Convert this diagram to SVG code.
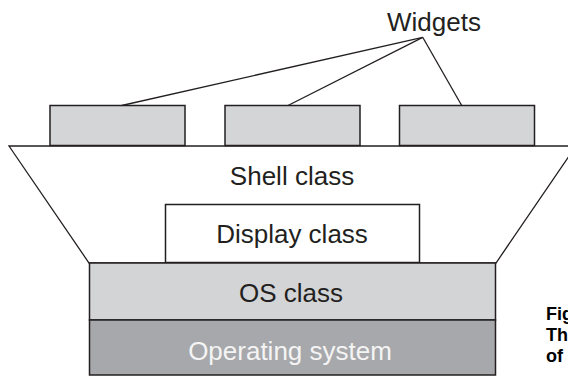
<svg xmlns="http://www.w3.org/2000/svg" width="568" height="376" viewBox="0 0 568 376">
<style>
.ln{stroke:#231f20;stroke-width:1.3;fill:none}
.box{stroke:#231f20;stroke-width:1.5}
.widget{fill:#d4d5d7}
.t{font-family:"Liberation Sans",Arial,sans-serif;font-size:26px;fill:#231f20;text-anchor:middle}
.cap{font-family:"Liberation Sans",Arial,sans-serif;font-size:18px;font-weight:bold;fill:#000}
</style>
<rect width="568" height="376" fill="#fff"/>
<g id="shell">
<polygon points="9,146 576,146 496,263 89,263" fill="#fff" class="ln"/>
<text class="t" x="292" y="185">Shell class</text>
</g>
<g id="widget1"><rect class="box widget" x="50" y="105.5" width="135" height="40"/></g>
<g id="widget2"><rect class="box widget" x="225" y="105.5" width="135" height="40"/></g>
<g id="widget3"><rect class="box widget" x="399.5" y="105.5" width="135" height="40"/></g>
<g id="widgets-label"><text class="t" x="434" y="31">Widgets</text></g>
<g id="display"><rect class="box" x="165.5" y="204.5" width="254" height="58" fill="#fff"/>
<text class="t" x="292" y="243">Display class</text></g>
<g id="os-class"><rect class="box" x="89.5" y="263" width="406" height="57" fill="#d3d4d6"/>
<text class="t" x="291" y="302">OS class</text></g>
<g id="operating-system"><rect class="box" x="89.5" y="320" width="406" height="55" fill="#a7a8ab"/>
<text class="t" x="290" y="360" style="fill:#f4f4f4">Operating system</text></g>
<g id="connectors">
<line class="ln" x1="422.7" y1="37.3" x2="121.7" y2="105.5"/>
<line class="ln" x1="422.7" y1="37.3" x2="288" y2="105.5"/>
<line class="ln" x1="422.7" y1="37.3" x2="461.7" y2="105.5"/>
</g>
<g id="caption">
<text class="cap" x="546" y="320">Fig</text>
<text class="cap" x="546" y="341">Th</text>
<text class="cap" x="546" y="362">of</text>
</g>
</svg>
